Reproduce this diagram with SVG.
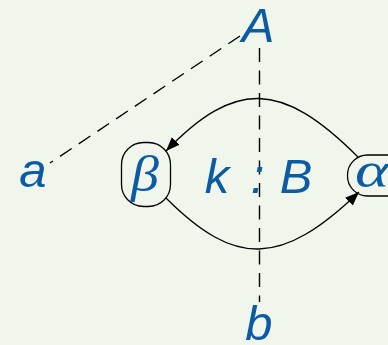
<svg xmlns="http://www.w3.org/2000/svg" width="388" height="345" viewBox="0 0 388 345">
<style>
.lbl{font-family:"Liberation Sans",Arial,sans-serif;font-style:italic;font-size:49px;fill:#0b5ca4}
.gr{font-family:"Liberation Serif","DejaVu Serif",serif;font-style:italic;font-size:50px;fill:#0b5ca4}
.box{fill:none;stroke:#000;stroke-width:1.3}
.dash{fill:none;stroke:#000;stroke-width:1.4;stroke-dasharray:14 8.5}
.arc{fill:none;stroke:#000;stroke-width:1.3}
</style>
<defs>
<marker id="ah" markerUnits="userSpaceOnUse" markerWidth="15" markerHeight="11" refX="14" refY="5.5" orient="auto">
<path d="M0,0 L14,5.5 L0,11 z" fill="#000"/>
</marker>
</defs>
<rect width="388" height="345" fill="#f1f6ec"/>
<g id="connectors">
<path class="dash" d="M240,36 L50,163"/>
<path class="dash" d="M259.5,48 L259.5,302"/>
<path class="arc" d="M358,157 C281,80 235,80 166,151" marker-end="url(#ah)"/>
<path class="arc" d="M166,198 C235,267 281,267 359,192" marker-end="url(#ah)"/>
</g>
<g id="A"><text class="lbl" x="258" y="42" text-anchor="middle">A</text></g>
<g id="a"><text class="lbl" x="33" y="187" text-anchor="middle">a</text></g>
<g id="b"><text class="lbl" x="259" y="340" text-anchor="middle">b</text></g>
<g id="kB">
<text class="lbl" x="217" y="193" text-anchor="middle">k</text>
<text class="lbl" x="257.5" y="193" text-anchor="middle" font-style="normal">:</text>
<text class="lbl" x="296" y="193" text-anchor="middle">B</text>
</g>
<g id="beta">
<rect class="box" x="121.5" y="142.5" width="49" height="64" rx="22" ry="22"/>
<text class="gr" transform="translate(145,191) scale(1.12,1)" text-anchor="middle">β</text>
</g>
<g id="alpha">
<rect class="box" x="347.5" y="155" width="60" height="41" rx="20" ry="20"/>
<text class="gr" transform="translate(355,187) scale(1.3,1)">α</text>
</g>
</svg>
